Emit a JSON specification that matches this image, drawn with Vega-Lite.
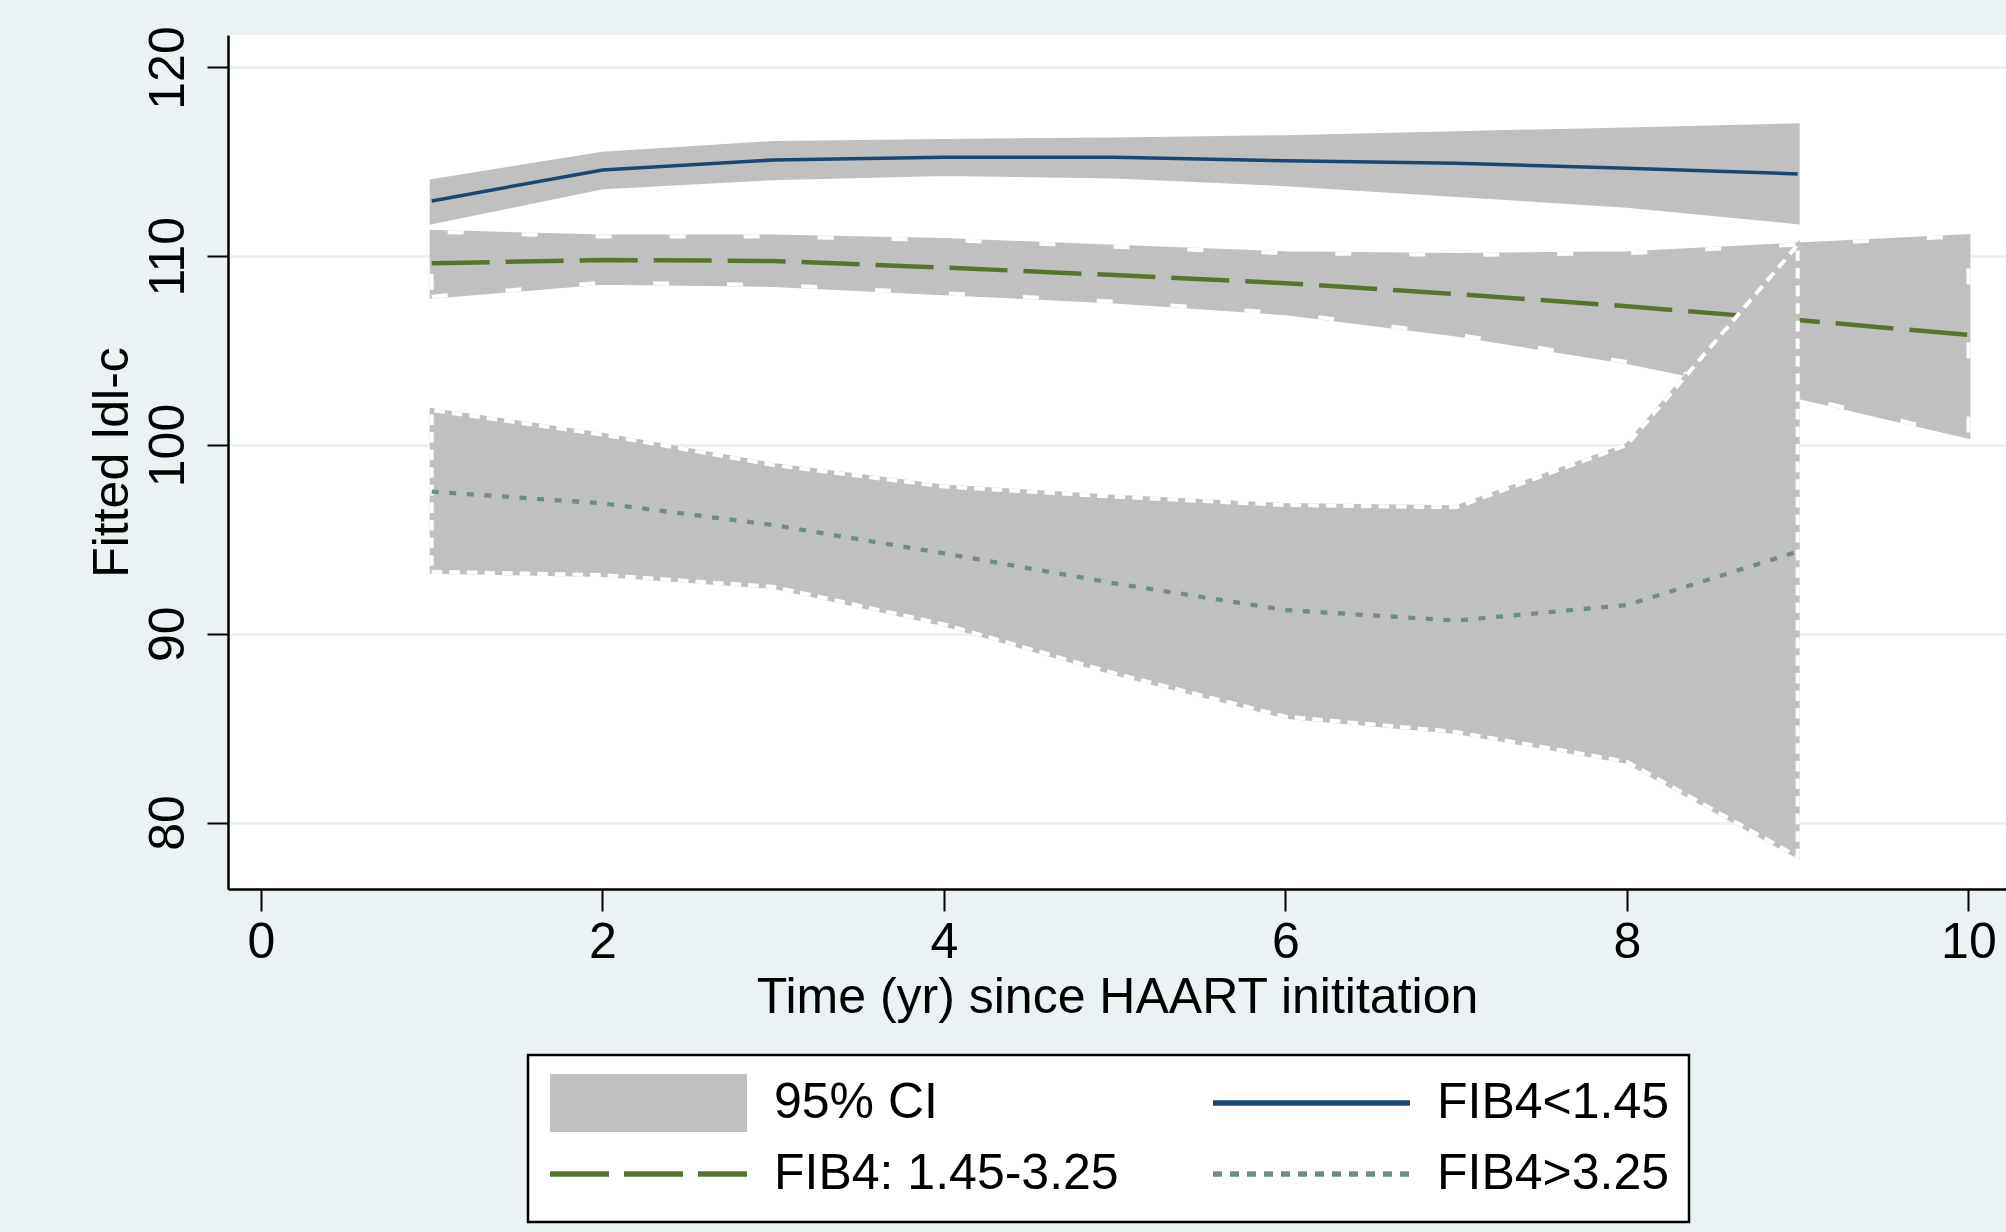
{
  "$schema": "https://vega.github.io/schema/vega-lite/v6.json",
  "width": 1778,
  "height": 854,
  "autosize": {"type": "none"},
  "padding": {"left": 228, "top": 35, "right": 0, "bottom": 343},
  "background": "#EAF2F3",
  "data": {
    "values": [
      {"group": "FIB4<1.45", "year": 1, "fit": 112.93, "lo": 111.8, "hi": 113.98},
      {"group": "FIB4<1.45", "year": 2, "fit": 114.57, "lo": 113.65, "hi": 115.43},
      {"group": "FIB4<1.45", "year": 3, "fit": 115.1, "lo": 114.13, "hi": 116.0},
      {"group": "FIB4<1.45", "year": 4, "fit": 115.25, "lo": 114.35, "hi": 116.1},
      {"group": "FIB4<1.45", "year": 5, "fit": 115.24, "lo": 114.23, "hi": 116.19},
      {"group": "FIB4<1.45", "year": 6, "fit": 115.06, "lo": 113.82, "hi": 116.31},
      {"group": "FIB4<1.45", "year": 7, "fit": 114.93, "lo": 113.25, "hi": 116.52},
      {"group": "FIB4<1.45", "year": 8, "fit": 114.66, "lo": 112.68, "hi": 116.72},
      {"group": "FIB4<1.45", "year": 9, "fit": 114.36, "lo": 111.8, "hi": 116.94},
      {"group": "FIB4: 1.45-3.25", "year": 1, "fit": 109.63, "lo": 107.86, "hi": 111.3},
      {"group": "FIB4: 1.45-3.25", "year": 2, "fit": 109.8, "lo": 108.6, "hi": 111.04},
      {"group": "FIB4: 1.45-3.25", "year": 3, "fit": 109.75, "lo": 108.48, "hi": 111.04},
      {"group": "FIB4: 1.45-3.25", "year": 4, "fit": 109.4, "lo": 108.04, "hi": 110.86},
      {"group": "FIB4: 1.45-3.25", "year": 5, "fit": 109.0, "lo": 107.6, "hi": 110.5},
      {"group": "FIB4: 1.45-3.25", "year": 6, "fit": 108.57, "lo": 106.98, "hi": 110.16},
      {"group": "FIB4: 1.45-3.25", "year": 7, "fit": 108.0, "lo": 105.85, "hi": 110.07},
      {"group": "FIB4: 1.45-3.25", "year": 8, "fit": 107.35, "lo": 104.4, "hi": 110.16},
      {"group": "FIB4: 1.45-3.25", "year": 9, "fit": 106.62, "lo": 102.56, "hi": 110.62},
      {"group": "FIB4: 1.45-3.25", "year": 10, "fit": 105.83, "lo": 100.44, "hi": 111.07},
      {"group": "FIB4>3.25", "year": 1, "fit": 97.53, "lo": 93.29, "hi": 101.85},
      {"group": "FIB4>3.25", "year": 2, "fit": 96.91, "lo": 93.11, "hi": 100.55},
      {"group": "FIB4>3.25", "year": 3, "fit": 95.76, "lo": 92.49, "hi": 98.94},
      {"group": "FIB4>3.25", "year": 4, "fit": 94.26, "lo": 90.5, "hi": 97.8},
      {"group": "FIB4>3.25", "year": 5, "fit": 92.67, "lo": 87.9, "hi": 97.26},
      {"group": "FIB4>3.25", "year": 6, "fit": 91.26, "lo": 85.61, "hi": 96.82},
      {"group": "FIB4>3.25", "year": 7, "fit": 90.7, "lo": 84.8, "hi": 96.7},
      {"group": "FIB4>3.25", "year": 8, "fit": 91.52, "lo": 83.22, "hi": 100.0},
      {"group": "FIB4>3.25", "year": 9, "fit": 94.35, "lo": 78.19, "hi": 110.6}
    ]
  },
  "encoding": {
    "x": {
      "field": "year",
      "type": "quantitative",
      "title": "Time (yr) since HAART inititation",
      "scale": {"domain": [-0.193, 10.22], "nice": false, "zero": false},
      "axis": {"values": [0, 2, 4, 6, 8, 10]}
    }
  },
  "layer": [
    {
      "transform": [{"filter": "datum.group === 'FIB4<1.45'"}],
      "mark": {"type": "area", "stroke": "#C0C0C0", "strokeWidth": 4, "opacity": 1},
      "encoding": {
        "y": {"field": "lo", "type": "quantitative", "title": "Fitted ldl-c", "scale": {"domain": [76.48, 121.72], "nice": false, "zero": false}, "axis": {"values": [80, 90, 100, 110, 120]}},
        "y2": {"field": "hi"},
        "fill": {
          "datum": "95% CI",
          "type": "nominal",
          "title": null,
          "scale": {"domain": ["95% CI", "FIB4<1.45", "FIB4: 1.45-3.25", "FIB4>3.25"], "range": ["#C0C0C0", "transparent", "transparent", "transparent"]},
          "legend": {
            "title": null,
            "orient": "none",
            "legendX": 300,
            "legendY": 1020,
            "direction": "horizontal",
            "columns": 2,
            "columnPadding": 91,
            "rowPadding": 13,
            "clipHeight": 58,
            "symbolSize": 38809,
            "symbolType": {"expr": "datum.value === '95% CI' ? 'M-1,-0.294H1V0.294H-1Z' : 'stroke'"},
            "symbolStrokeColor": {"expr": "datum.value === '95% CI' ? 'transparent' : datum.value === 'FIB4<1.45' ? '#1A476F' : datum.value === 'FIB4: 1.45-3.25' ? '#55752F' : '#6E8E84'"},
            "symbolDash": {"expr": "datum.value === 'FIB4: 1.45-3.25' ? [59, 15] : datum.value === 'FIB4>3.25' ? [9, 8] : [1, 0]"},
            "symbolStrokeWidth": 5.5,
            "symbolOpacity": 1,
            "labelFontSize": 50,
            "labelFont": "Liberation Sans",
            "labelColor": "#000000",
            "labelOffset": 24,
            "labelLimit": 2000,
            "padding": 19,
            "strokeColor": "#000000",
            "fillColor": "#ffffff"
          }
        }
      }
    },
    {
      "transform": [{"filter": "datum.group === 'FIB4<1.45'"}],
      "mark": {"type": "line", "strokeWidth": 3.5},
      "encoding": {
        "y": {"field": "fit", "type": "quantitative", "title": "Fitted ldl-c"},
        "stroke": {"field": "group", "type": "nominal", "scale": {"domain": ["FIB4<1.45", "FIB4: 1.45-3.25", "FIB4>3.25"], "range": ["#1A476F", "#55752F", "#6E8E84"]}, "legend": null}
      }
    },
    {
      "transform": [{"filter": "datum.group === 'FIB4: 1.45-3.25'"}],
      "mark": {"type": "area", "fill": "#C0C0C0", "stroke": "#C0C0C0", "strokeWidth": 4, "opacity": 1},
      "encoding": {
        "y": {"field": "lo", "type": "quantitative", "title": "Fitted ldl-c"},
        "y2": {"field": "hi"}
      }
    },
    {
      "transform": [{"filter": "datum.group === 'FIB4: 1.45-3.25'"}],
      "mark": {"type": "area", "fill": "transparent", "stroke": "#ffffff", "strokeWidth": 4, "strokeDash": [16, 58]},
      "encoding": {
        "y": {"field": "lo", "type": "quantitative", "title": "Fitted ldl-c"},
        "y2": {"field": "hi"}
      }
    },
    {
      "transform": [{"filter": "datum.group === 'FIB4: 1.45-3.25'"}],
      "mark": {"type": "line", "strokeWidth": 4.5, "strokeDash": [58, 16]},
      "encoding": {
        "y": {"field": "fit", "type": "quantitative", "title": "Fitted ldl-c"},
        "stroke": {"field": "group", "type": "nominal", "legend": null}
      }
    },
    {
      "transform": [{"filter": "datum.group === 'FIB4>3.25'"}],
      "mark": {"type": "area", "fill": "#C0C0C0", "stroke": "#C0C0C0", "strokeWidth": 4, "opacity": 1},
      "encoding": {
        "y": {"field": "lo", "type": "quantitative", "title": "Fitted ldl-c"},
        "y2": {"field": "hi"}
      }
    },
    {
      "transform": [{"filter": "datum.group === 'FIB4>3.25'"}],
      "mark": {"type": "area", "fill": "transparent", "stroke": "#ffffff", "strokeWidth": 4, "strokeDash": [10.6, 7]},
      "encoding": {
        "y": {"field": "lo", "type": "quantitative", "title": "Fitted ldl-c"},
        "y2": {"field": "hi"}
      }
    },
    {
      "transform": [{"filter": "datum.group === 'FIB4>3.25'"}],
      "mark": {"type": "line", "strokeWidth": 4.3, "strokeDash": [7, 10.6]},
      "encoding": {
        "y": {"field": "fit", "type": "quantitative", "title": "Fitted ldl-c"},
        "stroke": {"field": "group", "type": "nominal", "legend": null}
      }
    }
  ],
  "config": {
    "view": {"fill": "#ffffff", "stroke": null},
    "font": "Liberation Sans",
    "axis": {
      "labelFont": "Liberation Sans",
      "titleFont": "Liberation Sans",
      "labelFontSize": 50,
      "titleFontSize": 50,
      "labelColor": "#000000",
      "titleColor": "#000000",
      "titleFontWeight": "normal",
      "tickColor": "#000000",
      "domainColor": "#000000",
      "tickWidth": 2,
      "domainWidth": 2.5
    },
    "axisX": {"grid": false, "tickSize": 22, "labelPadding": 6, "titlePadding": 5.5, "labelFlush": false},
    "axisY": {"grid": true, "gridColor": "#EAF2F3", "gridWidth": 3, "tickSize": 21, "labelAngle": -90, "labelAlign": "center", "labelBaseline": "alphabetic", "labelPadding": 24, "titlePadding": 6},
    "legend": {"strokeWidth": 2.5, "cornerRadius": 0}
  }
}
